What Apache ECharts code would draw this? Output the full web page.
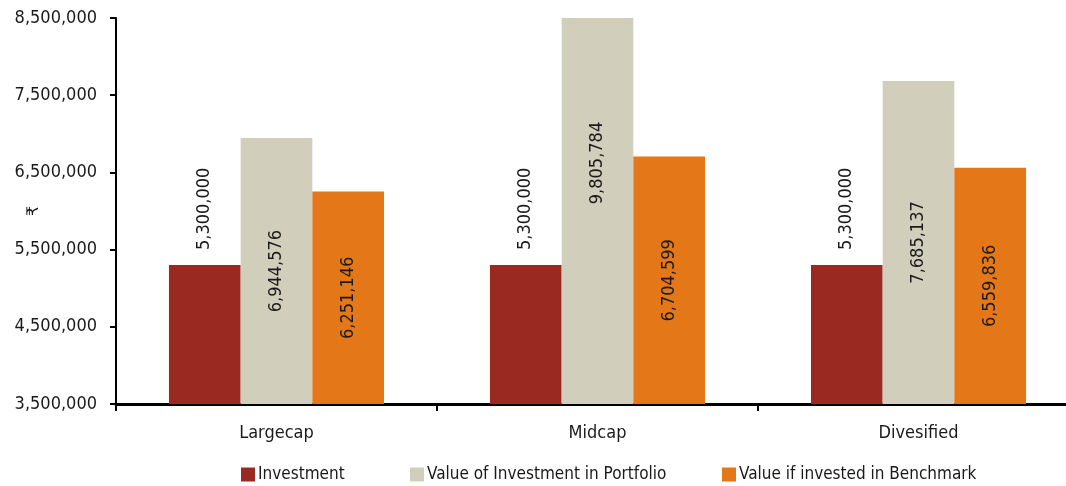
<!DOCTYPE html>
<html>
<head>
<meta charset="utf-8">
<style>
  html, body { margin: 0; padding: 0; background: #ffffff; }
  #chart { width: 1066px; height: 486px; }
</style>
<script src="https://cdn.jsdelivr.net/npm/echarts@6/dist/echarts.min.js"></script>
</head>
<body>
<div id="chart"></div>
<script>
// Fund categories on the x axis
const categories = ['Largecap', 'Midcap', 'Divesified'];

// Series values (₹)
const investment = [5300000, 5300000, 5300000];
const portfolioValue = [6944576, 9805784, 7685137];
const benchmarkValue = [6251146, 6704599, 6559836];

// Series names as shown in the legend
const seriesNames = ['Investment', 'Value of Investment in Portfolio', 'Value if invested in Benchmark'];

// Value axis range and tick step
const yMin = 3500000;
const yMax = 8500000;
const yStep = 1000000;

const FONT = '"DejaVu Sans Condensed", "DejaVu Sans", sans-serif';
const TEXT = '#1a1a1a';
const colors = ['#9a2921', '#d1cebb', '#e47819'];

const fmt = v => Math.round(v).toLocaleString('en-US');

const chart = echarts.init(document.getElementById('chart'), null, { renderer: 'canvas' });

const baseLabel = {
  show: true,
  rotate: 90,
  fontFamily: FONT,
  fontSize: 18,
  color: TEXT,
  formatter: p => fmt(p.value)
};

// Values beyond the axis maximum get their label nudged up within the visible part of the bar
function insideData(values) {
  return values.map(v => {
    if (v > yMax) {
      return { value: v, label: { offset: [48, 0] } };
    }
    return v;
  });
}

const legendBase = {
  orient: 'horizontal',
  top: 466,
  padding: 0,
  itemWidth: 14,
  itemHeight: 14,
  itemGap: 0,
  icon: 'rect',
  selectedMode: false,
  textStyle: { fontFamily: FONT, fontSize: 17, color: TEXT, padding: [0, 0, 0, -2] }
};

chart.setOption({
  animation: false,
  color: colors,
  grid: { left: 116, right: -13, top: 18, bottom: 82, containLabel: false, outerBoundsMode: 'none' },
  legend: [
    Object.assign({}, legendBase, { left: 241, data: [seriesNames[0]] }),
    Object.assign({}, legendBase, { left: 410, data: [seriesNames[1]] }),
    Object.assign({}, legendBase, { left: 722, data: [seriesNames[2]] })
  ],
  xAxis: {
    type: 'category',
    data: categories,
    axisLine: { show: true, lineStyle: { color: '#000', width: 3 } },
    axisTick: { show: true, alignWithLabel: false, length: 7, lineStyle: { color: '#000', width: 2 } },
    axisLabel: { fontFamily: FONT, fontSize: 18, color: TEXT, margin: 20 },
    splitLine: { show: false }
  },
  yAxis: {
    type: 'value',
    min: yMin,
    max: yMax,
    interval: yStep,
    name: '₹',
    nameLocation: 'middle',
    nameRotate: 90,
    nameGap: 74,
    nameMoveOverlap: false,
    nameTextStyle: { fontFamily: 'DejaVu Sans, sans-serif', fontSize: 16, color: TEXT },
    axisLine: { show: true, lineStyle: { color: '#000', width: 2 } },
    axisTick: { show: true, inside: false, length: 6, lineStyle: { color: '#000', width: 2 } },
    axisLabel: { fontFamily: FONT, fontSize: 18, color: TEXT, margin: 19, formatter: v => fmt(v) },
    splitLine: { show: false }
  },
  series: [
    {
      name: seriesNames[0],
      type: 'bar',
      data: investment,
      barGap: '0%',
      barCategoryGap: '33%',
      label: Object.assign({}, baseLabel, { position: 'top', distance: 15, align: 'left', verticalAlign: 'middle' })
    },
    {
      name: seriesNames[1],
      type: 'bar',
      data: insideData(portfolioValue),
      barGap: '0%',
      barCategoryGap: '33%',
      label: Object.assign({}, baseLabel, { position: 'inside', align: 'center', verticalAlign: 'middle' })
    },
    {
      name: seriesNames[2],
      type: 'bar',
      data: insideData(benchmarkValue),
      barGap: '0%',
      barCategoryGap: '33%',
      label: Object.assign({}, baseLabel, { position: 'inside', align: 'center', verticalAlign: 'middle' })
    }
  ]
});
</script>
</body>
</html>
